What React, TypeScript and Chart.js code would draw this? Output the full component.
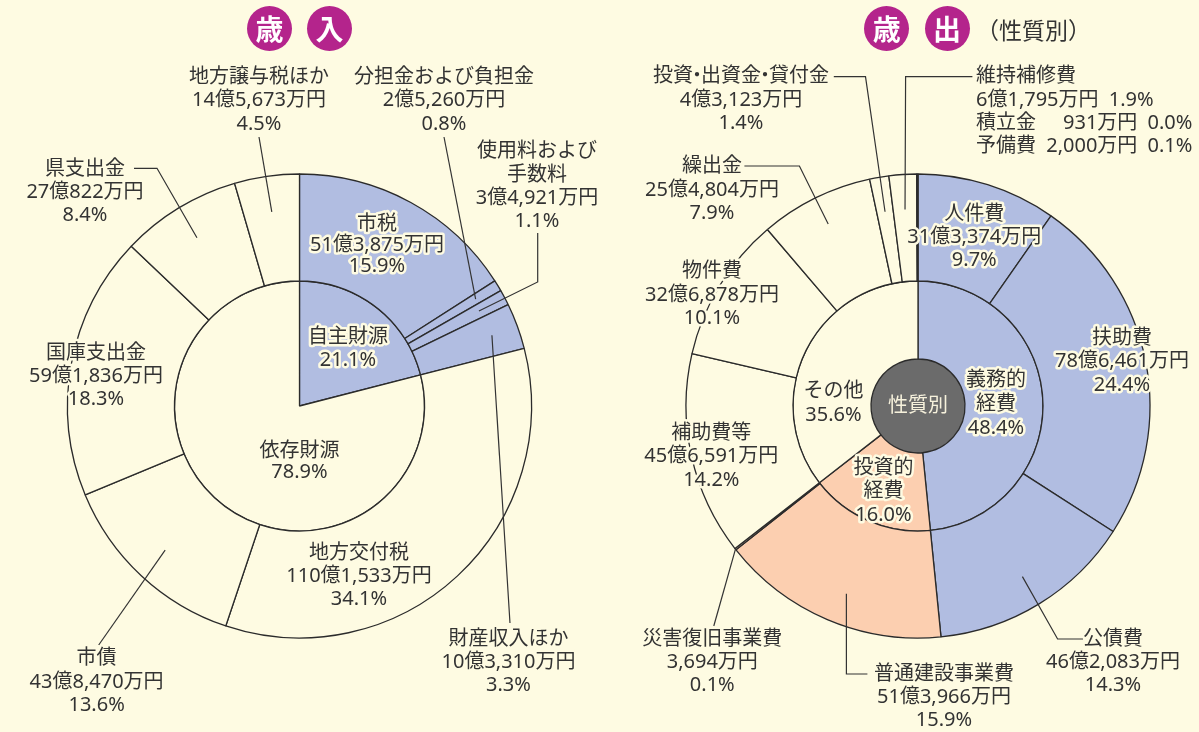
import React, { useEffect, useRef } from 'react';
import { Chart, registerables } from 'chart.js';

Chart.register(...registerables);

// ---------- colours ----------
const BG = '#fefbe2';
const BLUE = '#b1bde1';
const PEACH = '#fccfb0';
const GRAY = '#6b6b6b';
const LINE = '#2b2b2b';
const TEXT = '#333333';
const MAGENTA = '#b4248c';
const FONT = '"Noto Sans CJK JP", "Noto Sans", sans-serif';
const LABEL_FONT = '"Noto Sans", "Noto Sans CJK JP", sans-serif';

// ---------- 歳入 data (万円) ----------
const revenueCategories = ['市税', '分担金および負担金', '使用料および手数料', '財産収入ほか', '地方交付税', '市債', '国庫支出金', '県支出金', '地方譲与税ほか'];
const revenueValues = [513875, 25260, 34921, 103310, 1101533, 438470, 591836, 270822, 145673];
const revenueAmounts = ['51億3,875万円', '2億5,260万円', '3億4,921万円', '10億3,310万円', '110億1,533万円', '43億8,470万円', '59億1,836万円', '27億822万円', '14億5,673万円'];
const revenuePercents = ['15.9%', '0.8%', '1.1%', '3.3%', '34.1%', '13.6%', '18.3%', '8.4%', '4.5%'];
const revenueGroupOf = [0, 0, 0, 0, 1, 1, 1, 1, 1];
const revenueGroupCategories = ['自主財源', '依存財源'];
const revenueGroupValues = [677366, 2548334];
const revenueGroupPercents = ['21.1%', '78.9%'];

// ---------- 歳出 data (万円) ----------
const expenditureCategories = ['人件費', '扶助費', '公債費', '普通建設事業費', '災害復旧事業費', '補助費等', '物件費', '繰出金', '投資・出資金・貸付金', '維持補修費', '積立金', '予備費'];
const expenditureValues = [313374, 786461, 462083, 513966, 3694, 456591, 326878, 254804, 43123, 61795, 931, 2000];
const expenditureAmounts = ['31億3,374万円', '78億6,461万円', '46億2,083万円', '51億3,966万円', '3,694万円', '45億6,591万円', '32億6,878万円', '25億4,804万円', '4億3,123万円', '6億1,795万円', '931万円', '2,000万円'];
const expenditurePercents = ['9.7%', '24.4%', '14.3%', '15.9%', '0.1%', '14.2%', '10.1%', '7.9%', '1.4%', '1.9%', '0.0%', '0.1%'];
const expenditureGroupOf = [0, 0, 0, 1, 1, 2, 2, 2, 2, 2, 2, 2];
const expenditureGroupCategories = ['義務的経費', '投資的経費', 'その他'];
const expenditureGroupValues = [1561918, 517660, 1146122];
const expenditureGroupPercents = ['48.4%', '16.0%', '35.6%'];
const centerLabel = '性質別';

const revenueGroupColors = [BLUE, BG];
const expenditureGroupColors = [BLUE, PEACH, BG];

// ---------- layout (page coordinates) ----------
type Line = string | [string, string];
type LabelSpec = { lines: Line[]; x: number; y: number; lh: number; align?: CanvasTextAlign; color?: string; halo?: boolean; wordGap?: number };
type LeaderSpec = { dataset: number; index: number; t: number; r: number; points: [number, number][] };

const R = revenueCategories, RA = revenueAmounts, RP = revenuePercents;
const revenueLabels: LabelSpec[] = [
  { lines: [R[0], RA[0], RP[0]], x: 377, y: 224, lh: 21.3 },
  { lines: [R[1], RA[1], RP[1]], x: 444, y: 77, lh: 23.5 },
  { lines: ['使用料および', '手数料', RA[2], RP[2]], x: 537, y: 151.7, lh: 23.1 },
  { lines: [R[3], RA[3], RP[3]], x: 508.5, y: 639, lh: 23 },
  { lines: [R[4], RA[4], RP[4]], x: 359, y: 553, lh: 23 },
  { lines: [R[5], RA[5], RP[5]], x: 96.6, y: 658.5, lh: 23.3 },
  { lines: [R[6], RA[6], RP[6]], x: 96, y: 353, lh: 23 },
  { lines: [R[7], RA[7], RP[7]], x: 85, y: 169.3, lh: 22.9 },
  { lines: [R[8], RA[8], RP[8]], x: 259, y: 77, lh: 23.5 },
  { lines: [revenueGroupCategories[0], revenueGroupPercents[0]], x: 348, y: 337.7, lh: 22.3 },
  { lines: [revenueGroupCategories[1], revenueGroupPercents[1]], x: 299.5, y: 451.7, lh: 20.5 },
];
const revenueLeaders: LeaderSpec[] = [
  { dataset: 0, index: 8, t: 0.5, r: 196, points: [[259, 137]] },
  { dataset: 0, index: 1, t: 0.5, r: 206, points: [[444, 137]] },
  { dataset: 0, index: 2, t: 0.5, r: 203, points: [[537.7, 233], [537.7, 282]] },
  { dataset: 0, index: 3, t: 0.5, r: 205, points: [[510, 623]] },
  { dataset: 0, index: 5, t: 0.5, r: 197, points: [[98.7, 645]] },
  { dataset: 0, index: 7, t: 0.5, r: 197, points: [[134, 168.3], [157, 168.3]] },
];

const E = expenditureCategories, EA = expenditureAmounts, EP = expenditurePercents;
const expenditureLabels: LabelSpec[] = [
  { lines: [E[0], EA[0], EP[0]], x: 974.3, y: 214, lh: 23 },
  { lines: [E[1], EA[1], EP[1]], x: 1122, y: 338.3, lh: 23.3 },
  { lines: [E[2], EA[2], EP[2]], x: 1113, y: 639.3, lh: 22.9 },
  { lines: [E[3], EA[3], EP[3]], x: 944, y: 674, lh: 23 },
  { lines: [E[4], EA[4], EP[4]], x: 712.3, y: 639.3, lh: 22.9 },
  { lines: [E[5], EA[5], EP[5]], x: 711.3, y: 433.3, lh: 23.3 },
  { lines: [E[6], EA[6], EP[6]], x: 712, y: 271.7, lh: 23.3 },
  { lines: [E[7], EA[7], EP[7]], x: 712, y: 166.7, lh: 23.2 },
  { lines: [E[8], EA[8], EP[8]], x: 741, y: 76.7, lh: 23.3 },
  {
    lines: [E[9], EA[9] + ' ' + EP[9], [E[10], EA[10] + ' ' + EP[10]], E[11] + ' ' + EA[11] + ' ' + EP[11]],
    x: 976, y: 76.7, lh: 23.3, align: 'left', wordGap: 5,
  },
  { lines: ['義務的', '経費', expenditureGroupPercents[0]], x: 996, y: 380, lh: 24 },
  { lines: ['投資的', '経費', expenditureGroupPercents[1]], x: 883.5, y: 468.3, lh: 23.3 },
  { lines: [expenditureGroupCategories[2], expenditureGroupPercents[2]], x: 833.5, y: 391.7, lh: 23.3 },
  { lines: [centerLabel], x: 918, y: 406, lh: 22, color: '#f6f1dc', halo: false },
];
const expenditureLeaders: LeaderSpec[] = [
  { dataset: 0, index: 8, t: 0.5, r: 197, points: [[833.8, 76.7], [865.5, 76.7]] },
  { dataset: 0, index: 9, t: 0.5, r: 197, points: [[972.4, 76.7], [905.6, 76.7]] },
  { dataset: 0, index: 7, t: 0.5, r: 203, points: [[744.4, 166], [799.4, 166]] },
  { dataset: 0, index: 4, t: 0.5, r: 232, points: [[713.8, 626]] },
  { dataset: 0, index: 3, t: 0.463, r: 201, points: [[867.4, 674], [846.4, 674]] },
  { dataset: 0, index: 2, t: 0.5, r: 200, points: [[1083, 639], [1057.6, 639]] },
];

// text width with a narrow (proportional) katakana middle dot and optional extra word gap
function textWidth(ctx: CanvasRenderingContext2D, txt: string, gap: number) {
  const dotW = ctx.measureText('・').width * 0.4;
  let w = 0;
  for (const ch of txt) {
    if (ch === '・') w += dotW;
    else if (ch === ' ') w += ctx.measureText(' ').width + gap;
    else w += ctx.measureText(ch).width;
  }
  return w;
}

function drawText(ctx: CanvasRenderingContext2D, txt: string, x: number, y: number, align: CanvasTextAlign, gap: number, color: string, halo: boolean) {
  const simple = !txt.includes('・') && (gap === 0 || !txt.includes(' '));
  const paint = (s: string, px: number, al: CanvasTextAlign) => {
    ctx.textAlign = al;
    if (halo) {
      ctx.strokeStyle = BG;
      ctx.lineWidth = 5;
      ctx.strokeText(s, px, y);
    }
    ctx.fillStyle = color;
    ctx.fillText(s, px, y);
  };
  if (simple) {
    paint(txt, x, align);
    return;
  }
  const w = textWidth(ctx, txt, gap);
  let cx = align === 'center' ? x - w / 2 : align === 'right' ? x - w : x;
  const dotW = ctx.measureText('・').width * 0.4;
  let run = '';
  const flush = () => {
    if (run) {
      paint(run, cx, 'left');
      cx += ctx.measureText(run).width;
      run = '';
    }
  };
  for (const ch of txt) {
    if (ch === '・') {
      flush();
      paint('・', cx + dotW / 2, 'center');
      cx += dotW;
    } else if (ch === ' ' && gap) {
      flush();
      cx += ctx.measureText(' ').width + gap;
    } else run += ch;
  }
  flush();
}

function annotationPlugin(offsetX: number, labels: LabelSpec[], leaders: LeaderSpec[]) {
  return {
    id: 'annotations',
    afterDatasetsDraw(chart: any) {
      const ctx: CanvasRenderingContext2D = chart.ctx;
      ctx.save();
      ctx.translate(-offsetX, 0);
      ctx.strokeStyle = TEXT;
      ctx.lineWidth = 1.2;
      for (const ld of leaders) {
        const arc = chart.getDatasetMeta(ld.dataset).data[ld.index];
        const p = arc.getProps(['x', 'y', 'startAngle', 'endAngle'], true);
        const a = p.startAngle + ld.t * (p.endAngle - p.startAngle);
        const ex = p.x + offsetX + ld.r * Math.cos(a);
        const ey = p.y + ld.r * Math.sin(a);
        ctx.beginPath();
        ctx.moveTo(ld.points[0][0], ld.points[0][1]);
        for (let i = 1; i < ld.points.length; i++) ctx.lineTo(ld.points[i][0], ld.points[i][1]);
        ctx.lineTo(ex, ey);
        ctx.stroke();
      }
      ctx.font = `20px ${LABEL_FONT}`;
      ctx.textBaseline = 'middle';
      ctx.lineJoin = 'round';
      for (const lb of labels) {
        const align = lb.align ?? 'center';
        const gap = lb.wordGap ?? 0;
        let maxW = 0;
        for (const ln of lb.lines) if (typeof ln === 'string') maxW = Math.max(maxW, textWidth(ctx, ln, gap));
        lb.lines.forEach((ln, i) => {
          const y = lb.y + i * lb.lh;
          const color = lb.color ?? TEXT;
          const halo = lb.halo !== false;
          if (typeof ln === 'string') drawText(ctx, ln, lb.x, y, align, gap, color, halo);
          else {
            drawText(ctx, ln[0], lb.x, y, 'left', gap, color, halo);
            drawText(ctx, ln[1], lb.x + maxW, y, 'right', gap, color, halo);
          }
        });
      }
      ctx.restore();
    },
  };
}

const baseOptions = (padding: { left: number; right: number; top: number; bottom: number }) => ({
  animation: false as const,
  responsive: false,
  radius: 232,
  cutout: 0,
  events: [] as any[],
  layout: { padding },
  plugins: { legend: { display: false }, tooltip: { enabled: false } },
});

export default function App() {
  const leftRef = useRef<HTMLCanvasElement>(null);
  const rightRef = useRef<HTMLCanvasElement>(null);

  useEffect(() => {
    const left = new Chart(leftRef.current!, {
      type: 'doughnut',
      data: {
        labels: revenueCategories,
        datasets: [
          {
            data: revenueValues,
            backgroundColor: revenueGroupOf.map((g) => revenueGroupColors[g]),
            borderColor: LINE,
            borderWidth: 1.3,
            hoverOffset: 0,
            weight: 107,
          } as any,
          {
            data: revenueGroupValues,
            backgroundColor: revenueGroupColors,
            borderColor: LINE,
            borderWidth: 1.3,
            hoverOffset: 0,
            weight: 125,
          } as any,
        ],
      },
      options: baseOptions({ left: 60, right: 61, top: 160, bottom: 80 }) as any,
      plugins: [annotationPlugin(0, revenueLabels, revenueLeaders)],
    });

    const right = new Chart(rightRef.current!, {
      type: 'doughnut',
      data: {
        labels: expenditureCategories,
        datasets: [
          {
            data: expenditureValues,
            backgroundColor: expenditureGroupOf.map((g) => expenditureGroupColors[g]),
            borderColor: LINE,
            borderWidth: 1.3,
            hoverOffset: 0,
            weight: 107,
          } as any,
          {
            data: expenditureGroupValues,
            backgroundColor: expenditureGroupColors,
            borderColor: LINE,
            borderWidth: 1.3,
            hoverOffset: 0,
            weight: 78,
          } as any,
          {
            data: [1],
            backgroundColor: [GRAY],
            borderWidth: 0,
            hoverOffset: 0,
            weight: 47,
          } as any,
        ],
      },
      options: baseOptions({ left: 80, right: 43, top: 160, bottom: 80 }) as any,
      plugins: [annotationPlugin(600, expenditureLabels, expenditureLeaders)],
    });

    return () => {
      left.destroy();
      right.destroy();
    };
  }, []);

  const circle = (cx: number, ch: string) => (
    <div
      style={{
        position: 'absolute', left: cx - 22.5, top: 5.5, width: 45, height: 45, borderRadius: '50%',
        background: MAGENTA, color: '#ffffff', display: 'flex', alignItems: 'center', justifyContent: 'center',
        font: `bold 28px ${FONT}`, lineHeight: 1,
      }}
    >
      {ch}
    </div>
  );

  return (
    <div style={{ position: 'fixed', left: 0, top: 0, width: 1199, height: 732, background: BG, overflow: 'hidden' }}>
      <canvas ref={leftRef} width={600} height={732} style={{ position: 'absolute', left: 0, top: 0 }} />
      <canvas ref={rightRef} width={599} height={732} style={{ position: 'absolute', left: 600, top: 0 }} />
      {circle(269.5, '歳')}
      {circle(329.5, '入')}
      {circle(886.7, '歳')}
      {circle(947, '出')}
      <div style={{ position: 'absolute', left: 976, top: 14, font: `23px ${FONT}`, color: TEXT, lineHeight: '30px' }}>
        （性質別）
      </div>
    </div>
  );
}
